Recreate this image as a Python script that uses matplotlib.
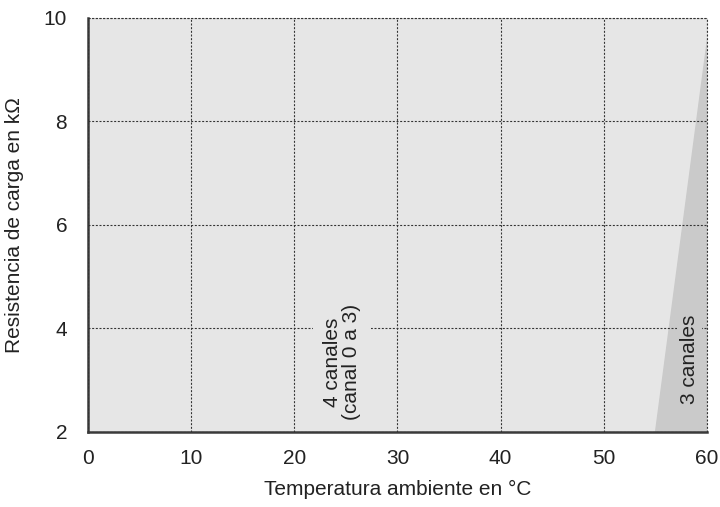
import numpy as np
import matplotlib.pyplot as plt

# region limits
x_full = [0, 60]
y_full = [2, 10]
# 3-channel region: triangle at the right edge
tri_x = [55, 60, 60]
tri_y = [2, 2, 9.6]

xticks = [0, 10, 20, 30, 40, 50, 60]
yticks = [2, 4, 6, 8, 10]

light = '#e6e6e6'
dark = '#cacaca'
line_c = '#333333'
dots = (0, (1.8, 1.5))

plt.rcParams['font.family'] = 'Liberation Sans'
plt.rcParams['font.size'] = 15

fig = plt.figure(figsize=(7.2, 5.07), dpi=100)
ax = fig.add_axes([0.1222, 0.148, 0.8597, 0.8166])

ax.fill_between(x_full, y_full[0], y_full[1], color=light, zorder=0)
ax.fill(tri_x, tri_y, color=dark, zorder=1)

ax.set_xlim(x_full)
ax.set_ylim(y_full)
ax.set_xticks(xticks)
ax.set_yticks(yticks)
ax.tick_params(axis='x', length=0, pad=12, labelsize=15, colors='#222222')
ax.tick_params(axis='y', length=0, pad=15, labelsize=15, colors='#222222')
ax.grid(True, color=line_c, linestyle=dots, linewidth=0.8, zorder=2)
ax.set_axisbelow(False)

for s in ['top', 'right']:
    ax.spines[s].set_visible(False)
ax.plot([0, 60], [10, 10], color=line_c, linestyle=dots, linewidth=0.8, clip_on=False, zorder=3)
ax.plot([60, 60], [2, 10], color=line_c, linestyle=dots, linewidth=0.8, clip_on=False, zorder=3)
for s in ['left', 'bottom']:
    ax.spines[s].set_color('#3a3a3a')
    ax.spines[s].set_linewidth(1.8)

ax.text(24.6, 3.35, '4 canales\n(canal 0 a 3)', rotation=90, ha='center', va='center',
        fontsize=15, linespacing=1.0, color='#222222',
        bbox=dict(facecolor=light, edgecolor='none', pad=7), zorder=4)
ax.text(58.3, 3.4, '3 canales', rotation=90, ha='center', va='center',
        fontsize=15, color='#222222',
        bbox=dict(facecolor=dark, edgecolor='none', pad=2), zorder=4)

ax.set_xlabel('Temperatura ambiente en °C', fontsize=15, labelpad=9, color='#222222')
ax.set_ylabel('Resistencia de carga en kΩ', fontsize=15, labelpad=14, color='#222222')

fig.savefig('out.png', dpi=100)
